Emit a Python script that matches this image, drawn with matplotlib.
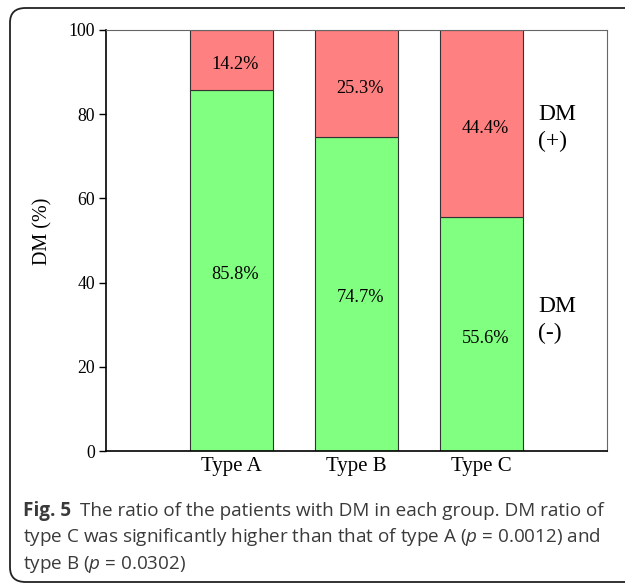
import matplotlib
matplotlib.use("Agg")
import numpy as np
import matplotlib.pyplot as plt
from matplotlib.patches import FancyBboxPatch

# data
groups = ["Type A", "Type B", "Type C"]
dm_neg = [85.8, 74.7, 55.6]   # DM (-), green, bottom
dm_pos = [14.2, 25.3, 44.4]   # DM (+), red, top
yticks = [0, 20, 40, 60, 80, 100]

serif = ["Liberation Serif", "DejaVu Serif"]
red = "#ff8080"
green = "#80ff80"

plt.rcParams["mathtext.fontset"] = "custom"
plt.rcParams["mathtext.it"] = "Open Sans:italic"
plt.rcParams["mathtext.rm"] = "Open Sans"

fig = plt.figure(figsize=(6.25, 5.84), dpi=100)

# rounded frame round the figure (right side runs off the page)
frame = FancyBboxPatch((10 / 625, 2 / 584), 640 / 625, 574 / 584,
                       boxstyle="round,pad=0,rounding_size=0.025",
                       transform=fig.transFigure, fill=False,
                       edgecolor="#222222", linewidth=1.3)
fig.patches.append(frame)

ax = fig.add_axes([106 / 625, 1 - 451 / 584, 501 / 625, 421 / 584])
x = np.arange(1, len(groups) + 1)
w = 0.66
ax.bar(x, dm_neg, width=w, color=green, edgecolor="#333333", linewidth=0.8)
ax.bar(x, dm_pos, width=w, bottom=dm_neg, color=red, edgecolor="#333333",
       linewidth=0.8)

for xi, n, p in zip(x, dm_neg, dm_pos):
    ax.text(xi + 0.03, n / 2 - 1.0, f"{n}%", ha="center", va="center",
            family=serif, fontsize=13.2)
    ax.text(xi + 0.03, n + p / 2 - 1.2, f"{p}%", ha="center", va="center",
            family=serif, fontsize=13.2)

ax.set_xlim(0, 4)
ax.set_ylim(0, 100)
ax.set_yticks(yticks)
ax.set_xticks(x)
ax.set_xticklabels(groups, family=serif, fontsize=15)
for lab in ax.get_yticklabels():
    lab.set_family(serif)
    lab.set_fontsize(12.8)
ax.tick_params(axis="x", length=0, pad=4)
ax.tick_params(axis="y", direction="out", length=5, width=1, pad=3)
for s in ["top", "right"]:
    ax.spines[s].set_color("#666666")
    ax.spines[s].set_linewidth(0.8)
for s in ["left", "bottom"]:
    ax.spines[s].set_color("black")
    ax.spines[s].set_linewidth(1.2)

fig.text(43 / 625, 1 - 231 / 584, "DM (%)", rotation=90, ha="center",
         va="center", family=serif, fontsize=14.5)

ax.text(3.45, 76.7, "DM\n(+)", ha="left", va="center", family=serif,
        fontsize=17, linespacing=1.35)
ax.text(3.45, 31.1, "DM\n(-)", ha="left", va="center", family=serif,
        fontsize=17, linespacing=1.35)

# caption
cap_font = "Open Sans"
cap_col = "#3a3a3a"
cs = 13.6
fig.text(23 / 625, 1 - 516 / 584, "Fig. 5", family=cap_font, fontweight="bold",
         fontsize=cs, va="baseline", color=cap_col)
fig.text(80 / 625, 1 - 516 / 584,
         "The ratio of the patients with DM in each group. DM ratio of",
         family=cap_font, fontsize=cs, va="baseline", color=cap_col)
fig.text(23 / 625, 1 - 542 / 584,
         "type C was significantly higher than that of type A ($p$ = 0.0012) and",
         family=cap_font, fontsize=cs, va="baseline", color=cap_col)
fig.text(23 / 625, 1 - 569 / 584, "type B ($p$ = 0.0302)",
         family=cap_font, fontsize=cs, va="baseline", color=cap_col)

fig.savefig("out.png", dpi=100)
